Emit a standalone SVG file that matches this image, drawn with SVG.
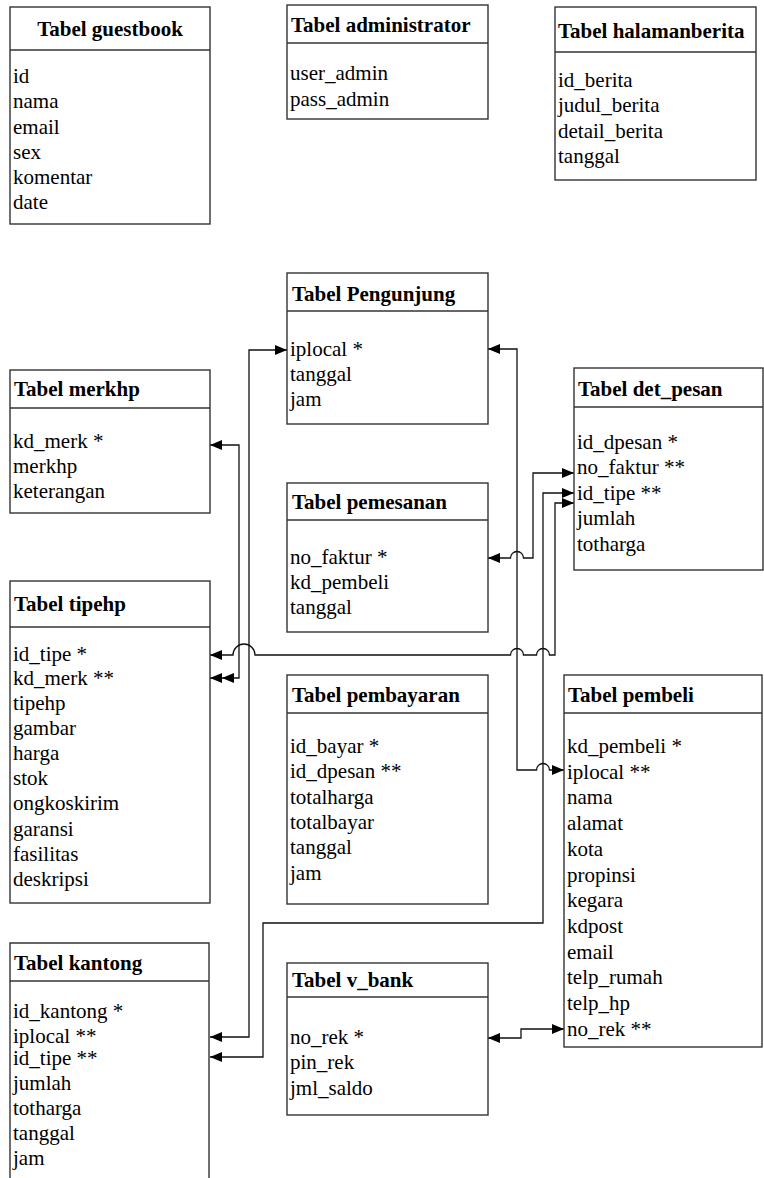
<svg xmlns="http://www.w3.org/2000/svg" width="764" height="1178" viewBox="0 0 764 1178">
<style>
.box{fill:#fff;stroke:#333;stroke-width:1.4}
.hl{stroke:#333;stroke-width:1.4}
.t{font-family:"Liberation Serif","Times New Roman",serif;font-size:21px;font-weight:bold;fill:#000}
.r{font-family:"Liberation Serif","Times New Roman",serif;font-size:21px;fill:#000}
.c{fill:none;stroke:#111;stroke-width:1.3;marker-start:url(#as);marker-end:url(#ae)}
</style>
<defs>
<marker id="ae" markerUnits="userSpaceOnUse" markerWidth="13" markerHeight="11" refX="12" refY="5" orient="auto"><path d="M0,0 L12,5 L0,10 z" fill="#000"/></marker>
<marker id="as" markerUnits="userSpaceOnUse" markerWidth="13" markerHeight="11" refX="12" refY="5" orient="auto-start-reverse"><path d="M0,0 L12,5 L0,10 z" fill="#000"/></marker>
<marker id="ad" markerUnits="userSpaceOnUse" markerWidth="25" markerHeight="11" refX="24" refY="5" orient="auto"><path d="M0,0 L12,5 L0,10 z M12,0 L24,5 L12,10 z" fill="#000"/></marker>
</defs>

<g id="connectors">
<path class="c" d="M287 350 H249 V1037 H210"/>
<path class="c" style="marker-end:url(#ad)" d="M210 445 H239 V678 H210"/>
<path class="c" d="M210 655 H233 A11 11 0 0 1 255 655 H510.5 A6.5 6.5 0 0 1 523.5 655 H536.5 A6.5 6.5 0 0 1 549.5 655 H555 V503 H574"/>
<path class="c" d="M488 349 H517 V770 H536.5 A6.5 6.5 0 0 1 549.5 770 H564"/>
<path class="c" d="M488 558 H510.5 A6.5 6.5 0 0 1 523.5 558 H533 V473 H574"/>
<path class="c" d="M210 1057 H263 V923 H543 V493 H574"/>
<path class="c" d="M488 1038 H521 V1029 H564"/>
</g>

<g id="guestbook">
<rect class="box" x="10" y="7" width="200" height="217"/>
<line class="hl" x1="10" y1="50" x2="210" y2="50"/>
<text class="t" x="110" y="36" text-anchor="middle">Tabel guestbook</text>
<text class="r" x="13" y="83">id</text>
<text class="r" x="13" y="108">nama</text>
<text class="r" x="13" y="134">email</text>
<text class="r" x="13" y="159">sex</text>
<text class="r" x="13" y="184">komentar</text>
<text class="r" x="13" y="209">date</text>
</g>

<g id="administrator">
<rect class="box" x="287" y="5" width="201" height="114"/>
<line class="hl" x1="287" y1="43" x2="488" y2="43"/>
<text class="t" x="291" y="32">Tabel administrator</text>
<text class="r" x="290" y="80">user_admin</text>
<text class="r" x="290" y="106">pass_admin</text>
</g>

<g id="halamanberita">
<rect class="box" x="555" y="7" width="201" height="173"/>
<line class="hl" x1="555" y1="52" x2="756" y2="52"/>
<text class="t" x="558" y="38">Tabel halamanberita</text>
<text class="r" x="558" y="87">id_berita</text>
<text class="r" x="558" y="112">judul_berita</text>
<text class="r" x="558" y="138">detail_berita</text>
<text class="r" x="558" y="163">tanggal</text>
</g>

<g id="pengunjung">
<rect class="box" x="287" y="273" width="201" height="151"/>
<line class="hl" x1="287" y1="311" x2="488" y2="311"/>
<text class="t" x="292" y="301">Tabel Pengunjung</text>
<text class="r" x="290" y="356">iplocal *</text>
<text class="r" x="290" y="381">tanggal</text>
<text class="r" x="290" y="406">jam</text>
</g>

<g id="merkhp">
<rect class="box" x="10" y="370" width="200" height="143"/>
<line class="hl" x1="10" y1="408" x2="210" y2="408"/>
<text class="t" x="14" y="396">Tabel merkhp</text>
<text class="r" x="13" y="448">kd_merk *</text>
<text class="r" x="13" y="473">merkhp</text>
<text class="r" x="13" y="498">keterangan</text>
</g>

<g id="det_pesan">
<rect class="box" x="574" y="368" width="189" height="202"/>
<line class="hl" x1="574" y1="407" x2="763" y2="407"/>
<text class="t" x="578" y="396">Tabel det_pesan</text>
<text class="r" x="577" y="449">id_dpesan *</text>
<text class="r" x="577" y="474">no_faktur **</text>
<text class="r" x="577" y="500">id_tipe **</text>
<text class="r" x="577" y="525">jumlah</text>
<text class="r" x="577" y="551">totharga</text>
</g>

<g id="pemesanan">
<rect class="box" x="287" y="483" width="201" height="149"/>
<line class="hl" x1="287" y1="520" x2="488" y2="520"/>
<text class="t" x="292" y="509">Tabel pemesanan</text>
<text class="r" x="290" y="564">no_faktur *</text>
<text class="r" x="290" y="589">kd_pembeli</text>
<text class="r" x="290" y="614">tanggal</text>
</g>

<g id="tipehp">
<rect class="box" x="10" y="581" width="200" height="322"/>
<line class="hl" x1="10" y1="627" x2="210" y2="627"/>
<text class="t" x="14" y="611">Tabel tipehp</text>
<text class="r" x="13" y="661">id_tipe *</text>
<text class="r" x="13" y="685">kd_merk **</text>
<text class="r" x="13" y="710">tipehp</text>
<text class="r" x="13" y="735">gambar</text>
<text class="r" x="13" y="760">harga</text>
<text class="r" x="13" y="785">stok</text>
<text class="r" x="13" y="810">ongkoskirim</text>
<text class="r" x="13" y="836">garansi</text>
<text class="r" x="13" y="861">fasilitas</text>
<text class="r" x="13" y="886">deskripsi</text>
</g>

<g id="pembayaran">
<rect class="box" x="287" y="675" width="201" height="229"/>
<line class="hl" x1="287" y1="713" x2="488" y2="713"/>
<text class="t" x="292" y="702">Tabel pembayaran</text>
<text class="r" x="290" y="753">id_bayar *</text>
<text class="r" x="290" y="778">id_dpesan **</text>
<text class="r" x="290" y="804">totalharga</text>
<text class="r" x="290" y="829">totalbayar</text>
<text class="r" x="290" y="854">tanggal</text>
<text class="r" x="290" y="880">jam</text>
</g>

<g id="pembeli">
<rect class="box" x="564" y="675" width="198" height="372"/>
<line class="hl" x1="564" y1="713" x2="762" y2="713"/>
<text class="t" x="568" y="702">Tabel pembeli</text>
<text class="r" x="567" y="753">kd_pembeli *</text>
<text class="r" x="567" y="779">iplocal **</text>
<text class="r" x="567" y="804">nama</text>
<text class="r" x="567" y="830">alamat</text>
<text class="r" x="567" y="856">kota</text>
<text class="r" x="567" y="882">propinsi</text>
<text class="r" x="567" y="907">kegara</text>
<text class="r" x="567" y="933">kdpost</text>
<text class="r" x="567" y="959">email</text>
<text class="r" x="567" y="984">telp_rumah</text>
<text class="r" x="567" y="1010">telp_hp</text>
<text class="r" x="567" y="1036">no_rek **</text>
</g>

<g id="kantong">
<path class="box" d="M10 1178 V943 H209 V1178"/>
<line class="hl" x1="10" y1="981" x2="209" y2="981"/>
<text class="t" x="14" y="970">Tabel kantong</text>
<text class="r" x="13" y="1018">id_kantong *</text>
<text class="r" x="13" y="1043">iplocal **</text>
<text class="r" x="13" y="1065">id_tipe **</text>
<text class="r" x="13" y="1090">jumlah</text>
<text class="r" x="13" y="1115">totharga</text>
<text class="r" x="13" y="1140">tanggal</text>
<text class="r" x="13" y="1165">jam</text>
</g>

<g id="v_bank">
<rect class="box" x="287" y="963" width="201" height="152"/>
<line class="hl" x1="287" y1="997" x2="488" y2="997"/>
<text class="t" x="292" y="987">Tabel v_bank</text>
<text class="r" x="290" y="1044">no_rek *</text>
<text class="r" x="290" y="1069">pin_rek</text>
<text class="r" x="290" y="1095">jml_saldo</text>
</g>
</svg>
